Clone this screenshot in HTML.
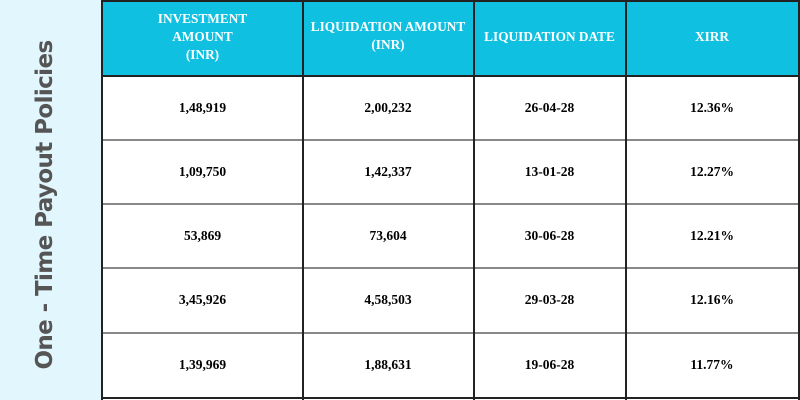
<!DOCTYPE html>
<html><head><style>
body{margin:0;width:800px;height:400px;overflow:hidden;background:#fff;position:relative;font-family:"Liberation Serif",serif}
.side{position:absolute;left:0;top:0;width:102px;height:400px;background:#e2f6fd}
.vt{position:absolute;left:45px;top:205px;transform:translate(-50%,-50%) rotate(-90deg);white-space:nowrap;font-family:"DejaVu Sans","Liberation Sans",sans-serif;font-weight:bold;font-size:23px;letter-spacing:-0.6px;color:#555}
.hdr{position:absolute;left:102px;top:0;width:697px;height:76px;background:#0fc0e0}
.c{position:absolute;text-align:center;font-weight:bold;font-size:13.5px}
.h{color:#fff;font-size:13.3px;line-height:18px}
.vl{position:absolute;top:0;width:1.5px;height:400px;background:#222}
.hl{position:absolute;left:102px;width:697px;height:2px;background:#888}
</style></head><body>
<div class="side"><div class="vt">One - Time Payout Policies</div></div>
<div class="hdr"></div>
<div class="hl" style="top:75px;background:#222;height:1.5px"></div>
<div class="hl" style="top:139px"></div>
<div class="hl" style="top:203px"></div>
<div class="hl" style="top:267px"></div>
<div class="hl" style="top:332px"></div>
<div class="hl" style="top:397px;background:#222"></div>
<div class="hl" style="top:0;height:1.5px;background:#222"></div>
<div class="vl" style="left:101px"></div>
<div class="vl" style="left:302px"></div>
<div class="vl" style="left:473px"></div>
<div class="vl" style="left:625px"></div>
<div class="vl" style="left:798px"></div>
<div class="c h" style="left:103px;width:199px;top:10px">INVESTMENT<br>AMOUNT<br>(INR)</div>
<div class="c h" style="left:303px;width:170px;top:18px">LIQUIDATION AMOUNT<br>(INR)</div>
<div class="c h" style="left:474px;width:151px;top:28px">LIQUIDATION DATE</div>
<div class="c h" style="left:626px;width:172px;top:28px">XIRR</div>
<div class="c" style="left:103px;width:199px;top:100px">1,48,919</div>
<div class="c" style="left:303px;width:170px;top:100px">2,00,232</div>
<div class="c" style="left:474px;width:151px;top:100px">26-04-28</div>
<div class="c" style="left:626px;width:172px;top:100px">12.36%</div>
<div class="c" style="left:103px;width:199px;top:164px">1,09,750</div>
<div class="c" style="left:303px;width:170px;top:164px">1,42,337</div>
<div class="c" style="left:474px;width:151px;top:164px">13-01-28</div>
<div class="c" style="left:626px;width:172px;top:164px">12.27%</div>
<div class="c" style="left:103px;width:199px;top:228px">53,869</div>
<div class="c" style="left:303px;width:170px;top:228px">73,604</div>
<div class="c" style="left:474px;width:151px;top:228px">30-06-28</div>
<div class="c" style="left:626px;width:172px;top:228px">12.21%</div>
<div class="c" style="left:103px;width:199px;top:292px">3,45,926</div>
<div class="c" style="left:303px;width:170px;top:292px">4,58,503</div>
<div class="c" style="left:474px;width:151px;top:292px">29-03-28</div>
<div class="c" style="left:626px;width:172px;top:292px">12.16%</div>
<div class="c" style="left:103px;width:199px;top:357px">1,39,969</div>
<div class="c" style="left:303px;width:170px;top:357px">1,88,631</div>
<div class="c" style="left:474px;width:151px;top:357px">19-06-28</div>
<div class="c" style="left:626px;width:172px;top:357px">11.77%</div>
</body></html>
